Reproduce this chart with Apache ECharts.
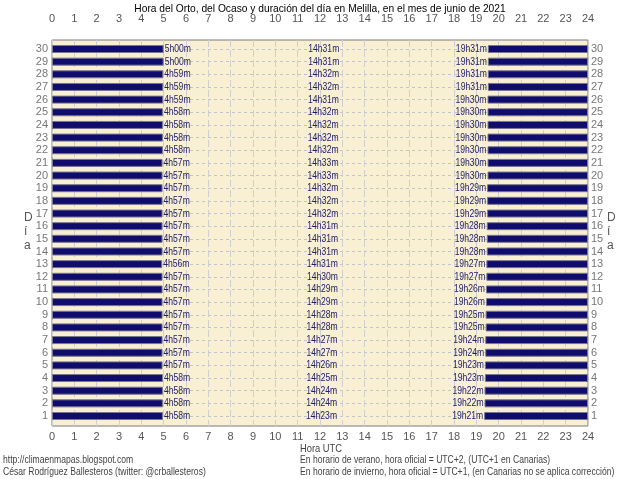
<!DOCTYPE html>
<html>
<head>
<meta charset="utf-8">
<script src="https://cdn.jsdelivr.net/npm/echarts@6/dist/echarts.min.js"></script>
<style>html,body{margin:0;padding:0;background:#fff}#c{width:640px;height:479px}</style>
</head>
<body>
<div id="c"></div>
<script>
const days = [1,2,3,4,5,6,7,8,9,10,11,12,13,14,15,16,17,18,19,20,21,22,23,24,25,26,27,28,29,30];
const sunrise = ['4h58m','4h58m','4h58m','4h58m','4h57m','4h57m','4h57m','4h57m','4h57m','4h57m',
                 '4h57m','4h57m','4h56m','4h57m','4h57m','4h57m','4h57m','4h57m','4h57m','4h57m',
                 '4h57m','4h58m','4h58m','4h58m','4h58m','4h59m','4h59m','4h59m','5h00m','5h00m'];
const dayLength = ['14h23m','14h24m','14h24m','14h25m','14h26m','14h27m','14h27m','14h28m','14h28m','14h29m',
                   '14h29m','14h30m','14h31m','14h31m','14h31m','14h31m','14h32m','14h32m','14h32m','14h33m',
                   '14h33m','14h32m','14h32m','14h32m','14h32m','14h31m','14h32m','14h32m','14h31m','14h31m'];
const sunset = ['19h21m','19h22m','19h22m','19h23m','19h23m','19h24m','19h24m','19h25m','19h25m','19h26m',
                '19h26m','19h27m','19h27m','19h28m','19h28m','19h28m','19h29m','19h29m','19h29m','19h30m',
                '19h30m','19h30m','19h30m','19h30m','19h30m','19h30m','19h31m','19h31m','19h31m','19h31m'];
const hourTicks = [0,1,2,3,4,5,6,7,8,9,10,11,12,13,14,15,16,17,18,19,20,21,22,23,24];

function toH(s){ const m = s.match(/(\d+)h(\d+)m/); return +m[1] + (+m[2])/60; }
const riseH = sunrise.map(toH);
const setH = sunset.map(toH);

const FONT = "'Liberation Sans', Arial, sans-serif";
const NAVY = '#100c6e';
const LBL = '#1e1e6a';
const SX = 0.78;

function narrowText(x, y, text, align, size, fill) {
  return {type: 'text', x: x, y: y, scaleX: SX,
          style: {text: text, x: 0, y: 0, align: align, verticalAlign: 'middle',
                  font: size + 'px ' + FONT, fill: fill}};
}

const chart = echarts.init(document.getElementById('c'), null, {renderer:'canvas'});
chart.setOption({
  animation: false,
  backgroundColor: '#ffffff',
  textStyle: {fontFamily: FONT},
  grid: [
    {left: 52, top: 40, width: 536, height: 386, show: true, backgroundColor: '#f9efd3', borderColor: '#7a7a7a', borderWidth: 1},
    {left: 52, top: 49, width: 536, height: 367}
  ],
  xAxis: [
    {gridIndex: 0, type: 'value', min: 0, max: 24, interval: 1, position: 'bottom',
     axisLine: {show: false}, axisTick: {show: false},
     axisLabel: {margin: 5, fontSize: 11, color: '#555', fontFamily: FONT,
                 formatter: v => hourTicks.includes(v) ? String(v) : ''},
     splitLine: {show: true, lineStyle: {color: '#cfcfcf', type: [7,3], width: 1}}},
    {gridIndex: 0, type: 'value', min: 0, max: 24, interval: 1, position: 'top',
     axisLine: {show: false}, axisTick: {show: false},
     axisLabel: {margin: 16, fontSize: 11, color: '#555', fontFamily: FONT,
                 formatter: v => hourTicks.includes(v) ? String(v) : ''},
     splitLine: {show: false}},
    {gridIndex: 1, type: 'value', min: 0, max: 24, show: false}
  ],
  yAxis: [
    {gridIndex: 0, type: 'value', min: 0, max: 1, show: false},
    {gridIndex: 1, type: 'category', data: days.map(String), boundaryGap: false, position: 'left',
     axisLine: {show: false}, axisTick: {show: false},
     axisLabel: {interval: 0, margin: 4, fontSize: 11, color: '#777', fontFamily: FONT},
     splitLine: {show: true, interval: 0, lineStyle: {color: '#c4c4c4', type: [3,3], width: 1}}},
    {gridIndex: 1, type: 'category', data: days.map(String), boundaryGap: false, position: 'right',
     axisLine: {show: false}, axisTick: {show: false},
     axisLabel: {interval: 0, margin: 3, fontSize: 11, color: '#777', fontFamily: FONT},
     splitLine: {show: false}}
  ],
  series: [
    {type: 'bar', name: 'orto', xAxisIndex: 2, yAxisIndex: 1, stack: 'd', barWidth: 8,
     data: riseH,
     itemStyle: {color: NAVY, borderColor: '#77778f', borderWidth: 1}},
    {type: 'bar', name: 'duracion', xAxisIndex: 2, yAxisIndex: 1, stack: 'd', barWidth: 8,
     data: setH.map((s,i) => s - riseH[i]),
     itemStyle: {color: 'rgba(0,0,0,0)'}},
    {type: 'bar', name: 'ocaso', xAxisIndex: 2, yAxisIndex: 1, stack: 'd', barWidth: 8,
     data: setH.map(s => 24 - s),
     itemStyle: {color: NAVY, borderColor: '#77778f', borderWidth: 1}},
    {type: 'custom', name: 'etiquetas', xAxisIndex: 2, yAxisIndex: 1, z: 5,
     data: days.map((d, i) => [riseH[i], setH[i], i]),
     encode: {x: [0, 1], y: 2},
     renderItem: function (params, api) {
       const i = api.value(2);
       const p1 = api.coord([api.value(0), i]);
       const p2 = api.coord([api.value(1), i]);
       const xm = (p1[0] + p2[0]) / 2;
       return {type: 'group', children: [
         narrowText(p1[0] + 1, p1[1], sunrise[i], 'left', 11, LBL),
         narrowText(xm - 2, p1[1], dayLength[i], 'center', 11, LBL),
         narrowText(p2[0] - 1, p2[1], sunset[i], 'right', 11, LBL)
       ]};
     }}
  ],
  graphic: [
    {type: 'text', x: 320, y: 9, scaleX: 0.93, style: {text: 'Hora del Orto, del Ocaso y duración del día en Melilla, en el mes de junio de 2021', x: 0, y: 0, align: 'center', verticalAlign: 'middle', fill: '#000', font: '11px ' + FONT}},
    {type: 'text', left: 24, top: 211, style: {text: 'D\ní\na', fill: '#555', font: '12px ' + FONT, lineHeight: 14, align: 'center'}},
    {type: 'text', left: 607, top: 211, style: {text: 'D\ní\na', fill: '#555', font: '12px ' + FONT, lineHeight: 14, align: 'center'}},
    {type: 'text', x: 300, y: 449, scaleX: 0.85, style: {text: 'Hora UTC', x: 0, y: 0, verticalAlign: 'middle', fill: '#444', font: '11px ' + FONT}},
    {type: 'text', x: 3, y: 460, scaleX: SX, style: {text: 'http://climaenmapas.blogspot.com', x: 0, y: 0, verticalAlign: 'middle', fill: '#444', font: '11px ' + FONT}},
    {type: 'text', x: 3, y: 472, scaleX: SX, style: {text: 'César Rodríguez Ballesteros (twitter: @crballesteros)', x: 0, y: 0, verticalAlign: 'middle', fill: '#444', font: '11px ' + FONT}},
    {type: 'text', x: 300, y: 460, scaleX: SX, style: {text: 'En horario de verano, hora oficial = UTC+2, (UTC+1 en Canarias)', x: 0, y: 0, verticalAlign: 'middle', fill: '#444', font: '11px ' + FONT}},
    {type: 'text', x: 300, y: 472, scaleX: SX, style: {text: 'En horario de invierno, hora oficial = UTC+1, (en Canarias no se aplica corrección)', x: 0, y: 0, verticalAlign: 'middle', fill: '#444', font: '11px ' + FONT}}
  ]
});
</script>
</body>
</html>
